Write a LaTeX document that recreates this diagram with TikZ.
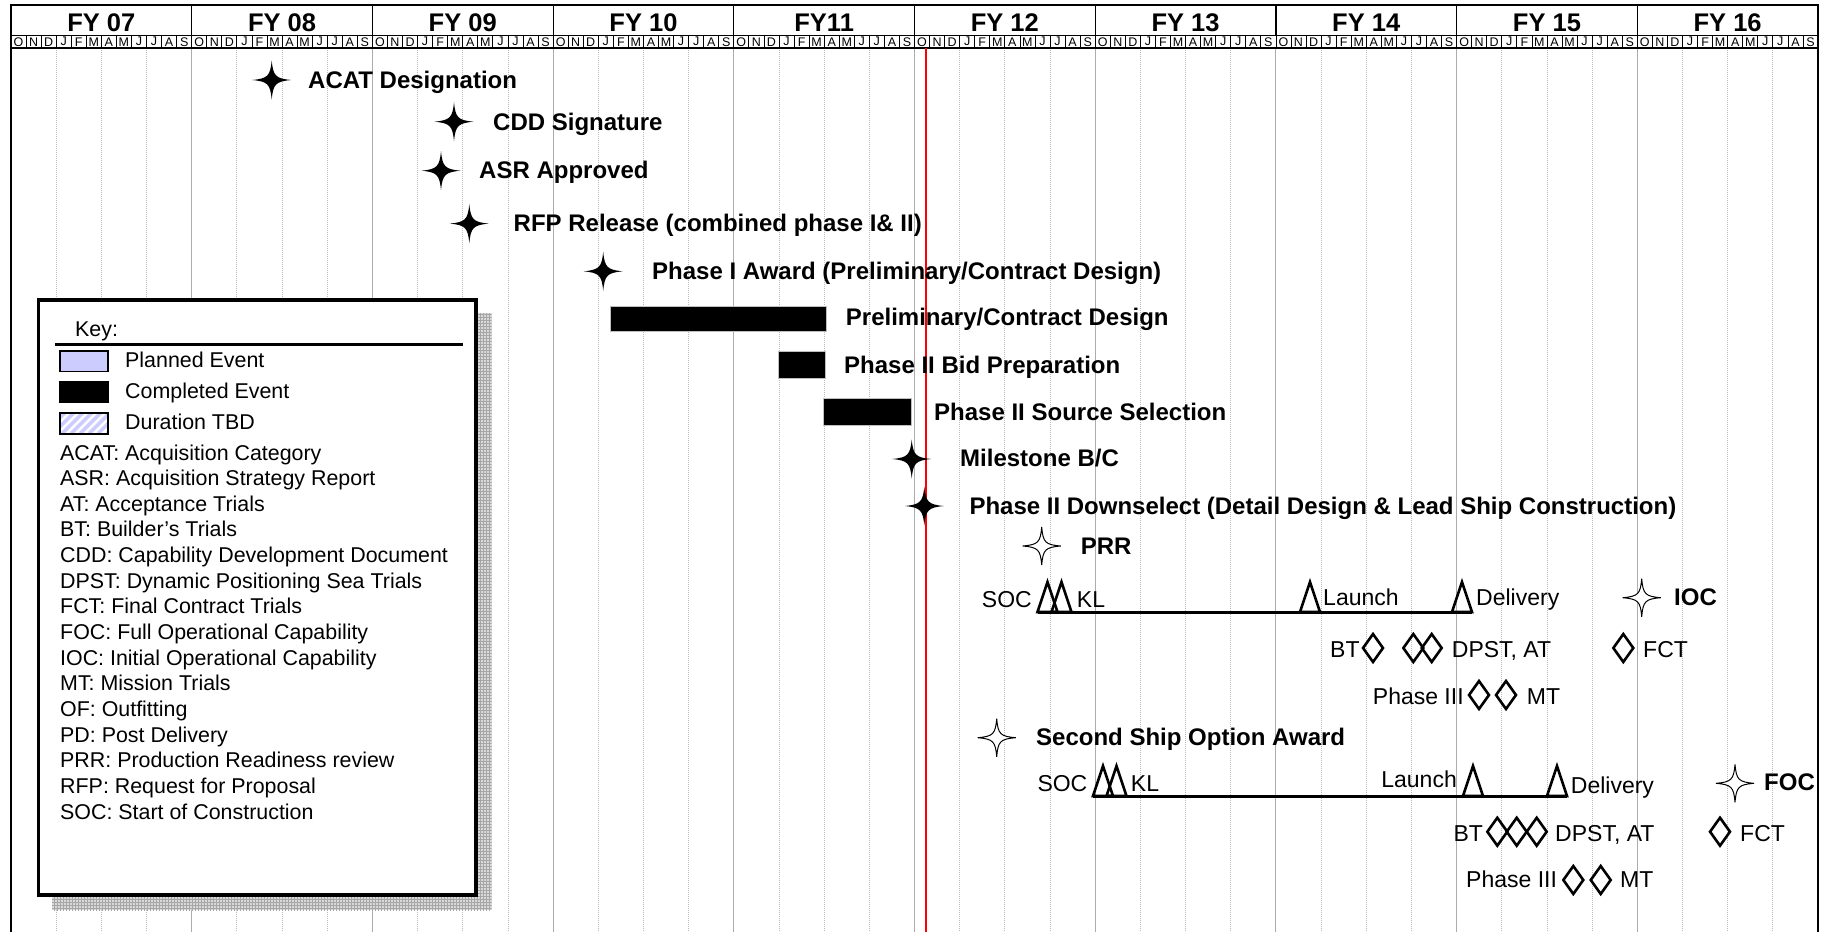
\documentclass[tikz,border=0pt]{standalone}
\usepackage{fontspec}
\setmainfont{Liberation Sans}
\usetikzlibrary{shapes.geometric,patterns}
\definecolor{lav}{RGB}{204,204,255}
\begin{document}
\begin{tikzpicture}[x=1pt,y=-1pt,
  bl/.style={font=\fontsize{24}{28}\selectfont\bfseries, anchor=base west, inner sep=0pt},
  rg/.style={font=\fontsize{23}{27}\selectfont, anchor=base west, inner sep=0pt},
  kt/.style={font=\fontsize{21.4}{25}\selectfont, anchor=base west, inner sep=0pt},
  fy/.style={font=\fontsize{25.5}{28}\selectfont\bfseries, anchor=base, inner sep=0pt},
  mo/.style={draw, line width=0.8pt, minimum width=15.058pt, minimum height=12.5pt, inner sep=0pt, font=\fontsize{12.5}{12.5}\selectfont},
  dia/.style={diamond, draw, line width=2.6pt, minimum width=21pt, minimum height=29pt, inner sep=0pt},
  tri/.style={draw, line width=2.6pt, line join=miter},
  barbox/.style={fill=black, draw=gray!50, line width=0.8pt, inner sep=0pt, anchor=north west},
  bstar/.pic={\fill[black] (0,-19.5) .. controls (1.5,-4) and (4,-1.5) .. (19.5,0) .. controls (4,1.5) and (1.5,4) .. (0,19.5) .. controls (-1.5,4) and (-4,1.5) .. (-19.5,0) .. controls (-4,-1.5) and (-1.5,-4) .. cycle;},
  wstar/.pic={\draw[line width=1pt, fill=white] (0,-19) .. controls (1.3,-3.6) and (3.6,-1.3) .. (19,0) .. controls (3.6,1.3) and (1.3,3.6) .. (0,19) .. controls (-1.3,3.6) and (-3.6,1.3) .. (-19,0) .. controls (-3.6,-1.3) and (-1.3,-3.6) .. cycle;}
]
\useasboundingbox (0,0) rectangle (1826,932);
\fill[white] (0,0) rectangle (1826,932);

% grid lines
\foreach \yy in {0,...,9}{
  \foreach \qq in {1,2,3}{
    \draw[gray!55, line width=0.8pt, dash pattern=on 1pt off 1pt] ({11+\yy*180.7+\qq*45.175},48) -- ({11+\yy*180.7+\qq*45.175},932);
  }
}
\foreach \yy in {1,...,9}{
  \draw[gray!65, line width=1pt] ({11+\yy*180.7},48) -- ({11+\yy*180.7},932);
}

% header
\foreach \lab [count=\yy from 0] in {FY 07,FY 08,FY 09,FY 10,FY11,FY 12,FY 13,FY 14,FY 15,FY 16}{
  \draw[line width=1.2pt] ({11+\yy*180.7},5) rectangle ++(180.7,30.5);
  \node[fy] (fy\yy) at ({11+\yy*180.7+90.35},31.5) {\lab};
  \foreach \m [count=\k from 0] in {O,N,D,J,F,M,A,M,J,J,A,S}{
    \node[mo] (m\yy-\k) at ({11+\yy*180.7+\k*15.058+7.529},41.75) {\m};
  }
}
\draw[line width=1.5pt] (11,48) -- (1818,48);
\draw[line width=2pt] (11,932) -- (11,5) -- (1818,5) -- (1818,932);

% today line
\draw[red, line width=2pt] (925.7,48) -- (925.7,932);

% key
\fill[gray!30] (52,313) rectangle (491.5,910);
\fill[pattern=grid, pattern color=gray!70] (52,313) rectangle (491.5,910);
\node[draw, line width=3.5pt, fill=white, minimum width=437.3pt, minimum height=595pt, anchor=north west, inner sep=0pt] (keybox) at (36.7,298.3) {};
\node[kt] (keyt) at (75,336.7) {Key:};
\draw[line width=3pt] (55,344) -- (462.7,344);
\node[draw, line width=1.5pt, fill=lav, minimum width=48pt, minimum height=20.7pt, anchor=north west, inner sep=0pt] (swp) at (59.3,350) {};
\node[kt] (swpt) at (125,367) {Planned Event};
\node[draw, line width=1.5pt, fill=black, minimum width=48pt, minimum height=20.7pt, anchor=north west, inner sep=0pt] (swc) at (59.3,381) {};
\node[kt] (swct) at (125,398) {Completed Event};
\begin{scope}
  \clip (59.3,412.3) rectangle (107.3,433.3);
  \foreach \s in {-24,-15,...,60}{
    \draw[lav, line width=3.5pt] ({59.3+\s},433.3) -- ({59.3+\s+21},412.3);
  }
\end{scope}
\node[draw, line width=1.5pt, minimum width=48pt, minimum height=21pt, anchor=north west, inner sep=0pt] (swd) at (59.3,412.3) {};
\node[kt] (swdt) at (125,429.3) {Duration TBD};
\foreach \t [count=\i from 0] in {ACAT: Acquisition Category,ASR: Acquisition Strategy Report,AT: Acceptance Trials,BT: Builder’s Trials,CDD: Capability Development Document,DPST: Dynamic Positioning Sea Trials,FCT: Final Contract Trials,FOC: Full Operational Capability,IOC: Initial Operational Capability,MT: Mission Trials,OF: Outfitting,PD: Post Delivery,PRR: Production Readiness review,RFP: Request for Proposal,SOC: Start of Construction}{
  \node[kt] (k\i) at (60,{460+25.65*\i}) {\t};
}

% milestones
\coordinate (sACAT) at (271.7,80); \pic at (sACAT) {bstar};
\node[bl] (tACAT) at (308,88) {ACAT Designation};
\coordinate (sCDD) at (454,121.7); \pic at (sCDD) {bstar};
\node[bl] (tCDD) at (493,130) {CDD Signature};
\coordinate (sASR) at (441,170.7); \pic at (sASR) {bstar};
\node[bl] (tASR) at (479,178.5) {ASR Approved};
\coordinate (sRFP) at (469.3,223.6); \pic at (sRFP) {bstar};
\node[bl] (tRFP) at (513.5,231.5) {RFP Release (combined phase I\& II)};
\coordinate (sPI) at (603.2,271.3); \pic at (sPI) {bstar};
\node[bl] (tPI) at (652,279) {Phase I Award (Preliminary/Contract Design)};

\node[barbox, minimum width=216pt, minimum height=25pt] (bPre) at (610,306) {};
\node[bl] (tPre) at (845.7,325.7) {Preliminary/Contract Design};
\node[barbox, minimum width=47pt, minimum height=27pt] (bBid) at (778,351) {};
\node[bl] (tBid) at (844,373.3) {Phase II Bid Preparation};
\node[barbox, minimum width=88.3pt, minimum height=27pt] (bSrc) at (822.7,398) {};
\node[bl] (tSrc) at (934,420) {Phase II Source Selection};

\coordinate (sMS) at (911.7,459); \pic at (sMS) {bstar};
\node[bl] (tMS) at (960,466.7) {Milestone B/C};
\coordinate (sDS) at (924.3,506); \pic at (sDS) {bstar};
\node[bl] (tDS) at (969.3,514) {Phase II Downselect (Detail Design \& Lead Ship Construction)};
\coordinate (sPRR) at (1041.7,546); \pic at (sPRR) {wstar};
\node[bl] (tPRR) at (1080.7,554) {PRR};

% lead ship
\node[rg] (soc1) at (981.7,607.3) {SOC};
\coordinate (l1s) at (1037.5,612); \coordinate (l1e) at (1472,612);
\draw[line width=3pt] (l1s) -- (l1e);
\coordinate (t1a) at (1047.5,612); \coordinate (t1b) at (1061.5,612);
\coordinate (t1l) at (1310,612); \coordinate (t1d) at (1462,612);
\foreach \c in {t1a,t1b,t1l,t1d}{
  \draw[tri] (\c) ++(-10,0) -- ++(10,-30) -- ++(10,30) -- cycle;
}
\node[rg] (kl1) at (1076.7,607.3) {KL};
\node[rg] (la1) at (1323,605.7) {Launch};
\node[rg] (de1) at (1476,605.7) {Delivery};
\coordinate (sIOC) at (1641.7,597.7); \pic at (sIOC) {wstar};
\node[bl] (tIOC) at (1674,605.7) {IOC};

\node[rg] (bt1) at (1330,657.7) {BT};
\node[dia] (d1a) at (1373,648) {};
\node[dia] (d1b) at (1413.3,648) {};
\node[dia] (d1c) at (1431.7,648) {};
\node[rg] (dp1) at (1451.7,657.7) {DPST, AT};
\node[dia] (d1f) at (1623.3,648) {};
\node[rg] (fc1) at (1643,657.7) {FCT};
\node[rg] (ph1) at (1372.7,704) {Phase III};
\node[dia] (d1p) at (1479,695) {};
\node[dia] (d1m) at (1506,695) {};
\node[rg] (mt1) at (1526.7,704) {MT};

% second ship
\coordinate (sSS) at (996.7,737.7); \pic at (sSS) {wstar};
\node[bl] (tSS) at (1036,745.7) {Second Ship Option Award};
\node[rg] (soc2) at (1037.3,791.7) {SOC};
\coordinate (l2s) at (1093,796); \coordinate (l2e) at (1567,796);
\draw[line width=3pt] (l2s) -- (l2e);
\coordinate (t2a) at (1103,796); \coordinate (t2b) at (1116.5,796);
\coordinate (t2l) at (1473,796); \coordinate (t2d) at (1557,796);
\foreach \c in {t2a,t2b,t2l,t2d}{
  \draw[tri] (\c) ++(-10,0) -- ++(10,-30) -- ++(10,30) -- cycle;
}
\node[rg] (kl2) at (1130.7,791.7) {KL};
\node[rg, anchor=base east] (la2) at (1457,787.3) {Launch};
\node[rg] (de2) at (1570.7,793.3) {Delivery};
\coordinate (sFOC) at (1735,783.3); \pic at (sFOC) {wstar};
\node[bl] (tFOC) at (1764,790.7) {FOC};

\node[rg] (bt2) at (1453.3,841.7) {BT};
\node[dia] (d2a) at (1497.3,831.7) {};
\node[dia] (d2b) at (1516.7,831.7) {};
\node[dia] (d2c) at (1536.7,831.7) {};
\node[rg] (dp2) at (1555,841.7) {DPST, AT};
\node[dia] (d2f) at (1720,831.7) {};
\node[rg] (fc2) at (1740,841.7) {FCT};
\node[rg] (ph2) at (1466,887.7) {Phase III};
\node[dia] (d2p) at (1573.3,880) {};
\node[dia] (d2m) at (1600.7,880) {};
\node[rg] (mt2) at (1620,887.7) {MT};
\end{tikzpicture}
\end{document}
